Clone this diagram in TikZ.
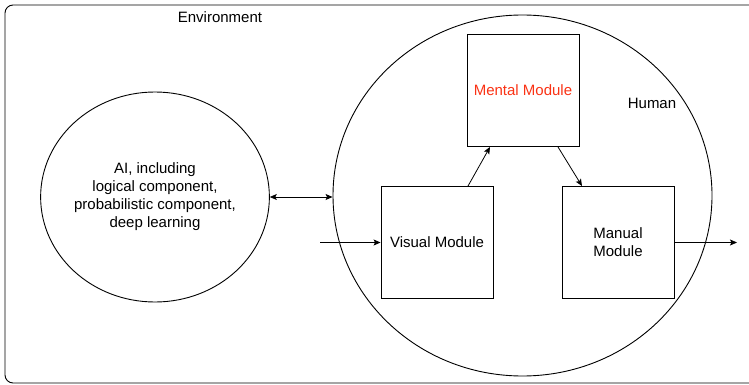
\documentclass[tikz,border=0pt]{standalone}
\usepackage{fontspec}
\setmainfont{Liberation Sans}
\usetikzlibrary{shapes.geometric,arrows.meta}
\definecolor{mentalred}{RGB}{250,50,20}
\tikzset{
  tip/.tip={Stealth[length=7pt,width=6pt,inset=1.5pt]},
  module/.style={draw,line width=0.9pt,minimum width=112pt,minimum height=112pt,inner sep=0pt,align=center},
  blob/.style={draw,ellipse,line width=0.9pt,inner sep=0pt,align=center},
  link/.style={line width=0.8pt,-tip},
  twoway/.style={line width=0.8pt,tip-tip}
}
\begin{document}
\begin{tikzpicture}[x=1pt,y=-1pt,font=\fontsize{15pt}{18pt}\selectfont]
  \useasboundingbox (0,0) rectangle (749,385);
  \clip (0,0) rectangle (749,385);

  \draw [line width=0.9pt,rounded corners=8pt] (5,5) rectangle (770,383);
    \node (env) at (220,17) {Environment};

  \node [blob,minimum width=228pt,minimum height=210pt] (ai) at (155,197)
    {AI, including\\logical component,\\probabilistic component,\\deep learning};
  \node [blob,minimum width=379pt,minimum height=361pt] (human) at (522.5,195.5) {};
    \node (humanlabel) at (652,103) {Human};

  \node [module,text=mentalred] (mental) at (523,90.5) {Mental Module};
  \node [module] (visual) at (437,242.5) {Visual Module};
  \node [module] (manual) at (618,242.5) {Manual\\Module};

  \coordinate (in) at (320,242.5);
  \coordinate (out) at (737,242.5);

  \draw [twoway] (ai.east) -- (ai.east -| human.west);
  \draw [link] (in) -- (visual.west);
  \draw [link] ([xshift=31pt]visual.north) -- ([xshift=-33pt]mental.south);
  \draw [link] ([xshift=35pt]mental.south) -- ([xshift=-36pt]manual.north);
  \draw [link] (manual.east) -- (out);
\end{tikzpicture}
\end{document}
